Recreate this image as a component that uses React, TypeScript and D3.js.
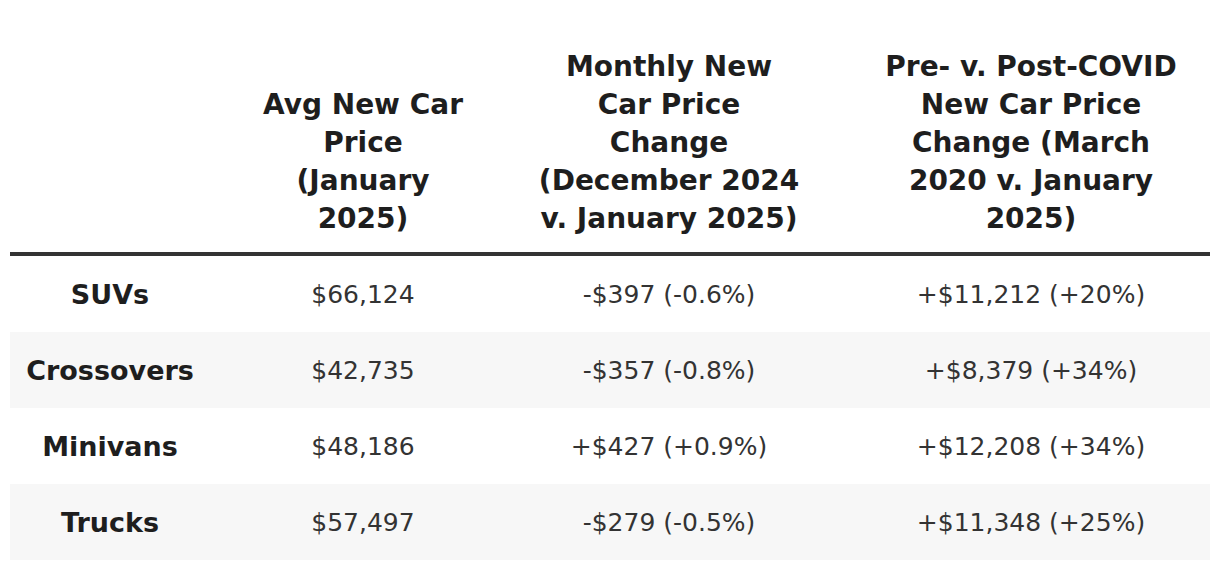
import React, { useEffect, useRef } from "react";
import * as d3 from "d3";

const categories = ["SUVs", "Crossovers", "Minivans", "Trucks"];
const avgPrice = ["$66,124", "$42,735", "$48,186", "$57,497"];
const monthlyChange = ["-$397 (-0.6%)", "-$357 (-0.8%)", "+$427 (+0.9%)", "-$279 (-0.5%)"];
const covidChange = ["+$11,212 (+20%)", "+$8,379 (+34%)", "+$12,208 (+34%)", "+$11,348 (+25%)"];
const headers: string[][] = [
  [],
  ["Avg New Car", "Price", "(January", "2025)"],
  ["Monthly New", "Car Price", "Change", "(December 2024", "v. January 2025)"],
  ["Pre- v. Post-COVID", "New Car Price", "Change (March", "2020 v. January", "2025)"],
];

const W = 1220;
const H = 570;
const colCenters = [110, 363, 669, 1031];
const tableLeft = 10;
const tableRight = 1210;
const rowsTop = 256;
const rowsBottom = 560;
const headerLastBaseline = 228;
const lineStep = 38;
const FONT = "'DejaVu Sans', sans-serif";

export default function App() {
  const ref = useRef<SVGSVGElement>(null);
  useEffect(() => {
    const svg = d3.select(ref.current);
    svg.selectAll("*").remove();
    const columns = [categories, avgPrice, monthlyChange, covidChange];
    const y = d3.scaleBand<string>().domain(categories).range([rowsTop, rowsBottom]).padding(0);
    const x = d3.scaleOrdinal<number, number>().domain([0, 1, 2, 3]).range(colCenters);

    // row backgrounds
    svg
      .append("g")
      .selectAll("rect")
      .data(categories)
      .join("rect")
      .attr("x", tableLeft)
      .attr("y", (d) => y(d)!)
      .attr("width", tableRight - tableLeft)
      .attr("height", y.bandwidth())
      .attr("fill", (_, i) => (i % 2 === 1 ? "#f7f7f7" : "#ffffff"));

    // header rule
    svg
      .append("rect")
      .attr("x", tableLeft)
      .attr("y", 252)
      .attr("width", tableRight - tableLeft)
      .attr("height", 4)
      .attr("fill", "#333333");

    // headers
    const hg = svg.append("g");
    headers.forEach((lines, ci) => {
      lines.forEach((line, li) => {
        hg.append("text")
          .attr("x", x(ci))
          .attr("y", headerLastBaseline - (lines.length - 1 - li) * lineStep)
          .attr("text-anchor", "middle")
          .attr("font-family", FONT)
          .attr("font-weight", 700)
          .attr("font-size", 28)
          .attr("fill", "#1e1e1e")
          .text(line);
      });
    });

    // cells
    const cg = svg.append("g");
    columns.forEach((col, ci) => {
      cg.selectAll(null)
        .data(col)
        .join("text")
        .attr("x", x(ci))
        .attr("y", (_, i) => y(categories[i])! + y.bandwidth() / 2)
        .attr("dy", "0.36em")
        .attr("text-anchor", "middle")
        .attr("font-family", FONT)
        .attr("font-weight", ci === 0 ? 700 : 400)
        .attr("font-size", ci === 0 ? 27 : 25)
        .attr("fill", ci === 0 ? "#1e1e1e" : "#333333")
        .text((d) => d);
    });
  }, []);
  return (
    <svg
      ref={ref}
      width={W}
      height={H}
      style={{ position: "absolute", left: 0, top: 0, background: "#ffffff" }}
    />
  );
}
